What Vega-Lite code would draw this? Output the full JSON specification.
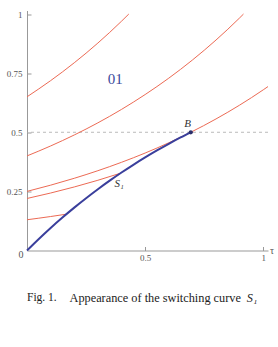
{
  "$schema": "https://vega.github.io/schema/vega-lite/v6.json",
  "width": 241,
  "height": 240,
  "autosize": {"type": "none"},
  "padding": {"left": 27, "top": 10.5, "right": 10, "bottom": 96.5},
  "background": "white",
  "config": {"view": {"stroke": null}},
  "datasets": {
    "curves": [
      {"curve": "S1", "tau": 0, "y": 0},
      {"curve": "S1", "tau": 0.05, "y": 0.0488},
      {"curve": "S1", "tau": 0.1, "y": 0.0952},
      {"curve": "S1", "tau": 0.15, "y": 0.1393},
      {"curve": "S1", "tau": 0.2, "y": 0.1813},
      {"curve": "S1", "tau": 0.25, "y": 0.2212},
      {"curve": "S1", "tau": 0.3, "y": 0.2592},
      {"curve": "S1", "tau": 0.35, "y": 0.2953},
      {"curve": "S1", "tau": 0.4, "y": 0.3297},
      {"curve": "S1", "tau": 0.45, "y": 0.3624},
      {"curve": "S1", "tau": 0.5, "y": 0.3935},
      {"curve": "S1", "tau": 0.55, "y": 0.4231},
      {"curve": "S1", "tau": 0.6, "y": 0.4512},
      {"curve": "S1", "tau": 0.65, "y": 0.478},
      {"curve": "S1", "tau": 0.6931, "y": 0.5},
      {"curve": "c065", "tau": 0, "y": 0.65},
      {"curve": "c065", "tau": 0.1, "y": 0.7184},
      {"curve": "c065", "tau": 0.2, "y": 0.7939},
      {"curve": "c065", "tau": 0.3, "y": 0.8774},
      {"curve": "c065", "tau": 0.4, "y": 0.9697},
      {"curve": "c065", "tau": 0.4308, "y": 1.0},
      {"curve": "c040", "tau": 0, "y": 0.4},
      {"curve": "c040", "tau": 0.1, "y": 0.4421},
      {"curve": "c040", "tau": 0.2, "y": 0.4886},
      {"curve": "c040", "tau": 0.3, "y": 0.5399},
      {"curve": "c040", "tau": 0.4, "y": 0.5967},
      {"curve": "c040", "tau": 0.5, "y": 0.6595},
      {"curve": "c040", "tau": 0.6, "y": 0.7288},
      {"curve": "c040", "tau": 0.7, "y": 0.8055},
      {"curve": "c040", "tau": 0.8, "y": 0.8902},
      {"curve": "c040", "tau": 0.9, "y": 0.9838},
      {"curve": "c040", "tau": 0.9163, "y": 1.0},
      {"curve": "c025", "tau": 0, "y": 0.25},
      {"curve": "c025", "tau": 0.1, "y": 0.2763},
      {"curve": "c025", "tau": 0.2, "y": 0.3054},
      {"curve": "c025", "tau": 0.3, "y": 0.3375},
      {"curve": "c025", "tau": 0.4, "y": 0.373},
      {"curve": "c025", "tau": 0.5, "y": 0.4122},
      {"curve": "c025", "tau": 0.6, "y": 0.4555},
      {"curve": "c025", "tau": 0.6931, "y": 0.5},
      {"curve": "c025", "tau": 0.8, "y": 0.5564},
      {"curve": "c025", "tau": 0.9, "y": 0.6149},
      {"curve": "c025", "tau": 1.0, "y": 0.6796},
      {"curve": "c025", "tau": 1.02, "y": 0.6933},
      {"curve": "c022", "tau": 0, "y": 0.22},
      {"curve": "c022", "tau": 0.1, "y": 0.2431},
      {"curve": "c022", "tau": 0.2, "y": 0.2687},
      {"curve": "c022", "tau": 0.3, "y": 0.297},
      {"curve": "c022", "tau": 0.396, "y": 0.327},
      {"curve": "c013", "tau": 0, "y": 0.13},
      {"curve": "c013", "tau": 0.05, "y": 0.1367},
      {"curve": "c013", "tau": 0.1, "y": 0.1437},
      {"curve": "c013", "tau": 0.167, "y": 0.1536}
    ],
    "labels": [
      {"tau": 0.374, "y": 0.725, "text": "01", "kind": "region"},
      {"tau": 0.68, "y": 0.535, "text": "B", "kind": "point"},
      {"tau": 0.39, "y": 0.28, "text": "S₁", "kind": "point"}
    ]
  },
  "layer": [
    {
      "data": {"values": [{"y": 0.5}]},
      "mark": {"type": "rule", "color": "#aaaaaa", "strokeDash": [3, 3], "strokeWidth": 0.8},
      "encoding": {"y": {"field": "y", "type": "quantitative"}}
    },
    {
      "data": {"name": "curves"},
      "transform": [{"filter": "datum.curve != 'S1'"}],
      "mark": {"type": "line", "interpolate": "monotone", "color": "#ec6a54", "strokeWidth": 1},
      "encoding": {
        "x": {"field": "tau", "type": "quantitative", "scale": {"domain": [0, 1.02], "nice": false},
          "axis": {"values": [0.5, 1], "labelExpr": "'' + datum.value", "title": null, "grid": false, "domainColor": "#999999", "tickColor": "#999999", "tickSize": -4, "labelPadding": 7, "labelFont": "Liberation Serif", "labelFontSize": 9, "labelColor": "#555555", "labelFlush": false}},
        "y": {"field": "y", "type": "quantitative", "scale": {"domain": [0, 1.015], "nice": false},
          "axis": {"values": [0.25, 0.5, 0.75, 1], "labelExpr": "'' + datum.value", "title": null, "grid": false, "domainColor": "#999999", "tickColor": "#999999", "tickSize": -4, "labelPadding": 9, "labelFont": "Liberation Serif", "labelFontSize": 9, "labelColor": "#555555", "labelFlush": false}},
        "detail": {"field": "curve", "type": "nominal"}
      }
    },
    {
      "data": {"name": "curves"},
      "transform": [{"filter": "datum.curve == 'S1'"}],
      "mark": {"type": "line", "interpolate": "monotone", "color": "#3a3f9c", "strokeWidth": 2},
      "encoding": {
        "x": {"field": "tau", "type": "quantitative"},
        "y": {"field": "y", "type": "quantitative"}
      }
    },
    {
      "data": {"values": [{"tau": 0.6931, "y": 0.5}]},
      "mark": {"type": "point", "filled": true, "color": "#2a2f6c", "size": 18, "opacity": 1},
      "encoding": {
        "x": {"field": "tau", "type": "quantitative"},
        "y": {"field": "y", "type": "quantitative"}
      }
    },
    {
      "data": {"name": "labels"},
      "transform": [{"filter": "datum.kind == 'region'"}],
      "mark": {"type": "text", "font": "Liberation Serif", "fontSize": 15, "color": "#3b4a9c"},
      "encoding": {
        "x": {"field": "tau", "type": "quantitative"},
        "y": {"field": "y", "type": "quantitative"},
        "text": {"field": "text"}
      }
    },
    {
      "data": {"name": "labels"},
      "transform": [{"filter": "datum.kind == 'point'"}],
      "mark": {"type": "text", "font": "Liberation Serif", "fontSize": 11, "fontStyle": "italic", "color": "#333333"},
      "encoding": {
        "x": {"field": "tau", "type": "quantitative"},
        "y": {"field": "y", "type": "quantitative"},
        "text": {"field": "text"}
      }
    },
    {
      "data": {"values": [
        {"tau": -0.025, "y": -0.02, "text": "0"},
        {"tau": 1.037, "y": 0.0, "text": "τ"}
      ]},
      "mark": {"type": "text", "font": "Liberation Serif", "fontSize": 10, "color": "#555555"},
      "encoding": {
        "x": {"field": "tau", "type": "quantitative"},
        "y": {"field": "y", "type": "quantitative"},
        "text": {"field": "text"}
      }
    },
    {
      "data": {"values": [
        {"tau": 0.0, "y": -0.2, "text": "Fig. 1.", "size": 11.5},
        {"tau": 0.18, "y": -0.2, "text": "Appearance of the switching curve", "size": 12.3}
      ]},
      "mark": {"type": "text", "align": "left", "font": "Liberation Serif", "color": "#222222"},
      "encoding": {
        "x": {"field": "tau", "type": "quantitative"},
        "y": {"field": "y", "type": "quantitative"},
        "text": {"field": "text"},
        "size": {"field": "size", "type": "quantitative", "scale": null, "legend": null}
      }
    },
    {
      "data": {"values": [
        {"tau": 0.93, "y": -0.2, "text": "S₁"}
      ]},
      "mark": {"type": "text", "align": "left", "font": "Liberation Serif", "fontSize": 12.3, "fontStyle": "italic", "color": "#222222"},
      "encoding": {
        "x": {"field": "tau", "type": "quantitative"},
        "y": {"field": "y", "type": "quantitative"},
        "text": {"field": "text"}
      }
    }
  ]
}
